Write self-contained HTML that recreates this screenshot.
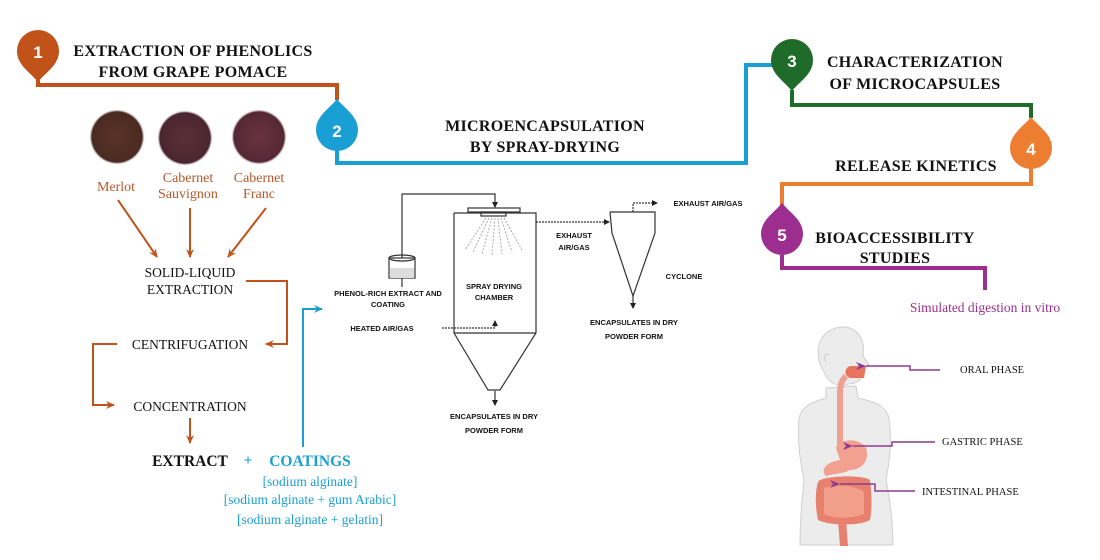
<!DOCTYPE html>
<html><head><meta charset="utf-8"><style>
html,body{margin:0;padding:0;background:#fff;}
svg{display:block;}
.s{font-family:"Liberation Serif",serif;}
.a{font-family:"Liberation Sans",sans-serif;}
</style></head><body>
<svg width="1100" height="560" viewBox="0 0 1100 560" xmlns="http://www.w3.org/2000/svg">
<defs>
<radialGradient id="g1" cx="50%" cy="50%" r="50%"><stop offset="0" stop-color="#5a3326"/><stop offset="0.9" stop-color="#4a2a22"/><stop offset="1" stop-color="#fff" stop-opacity="0"/></radialGradient>
<radialGradient id="g2" cx="50%" cy="50%" r="50%"><stop offset="0" stop-color="#5a3036"/><stop offset="0.9" stop-color="#4a2530"/><stop offset="1" stop-color="#fff" stop-opacity="0"/></radialGradient>
<radialGradient id="g3" cx="50%" cy="50%" r="50%"><stop offset="0" stop-color="#6a3240"/><stop offset="0.9" stop-color="#552836"/><stop offset="1" stop-color="#fff" stop-opacity="0"/></radialGradient>
<marker id="ab" markerWidth="10" markerHeight="10" refX="8" refY="5" orient="auto" markerUnits="userSpaceOnUse"><path d="M0,1 L9,5 L0,9 L3,5z" fill="#c0521a"/></marker>
<marker id="abl" markerWidth="10" markerHeight="10" refX="8" refY="5" orient="auto" markerUnits="userSpaceOnUse"><path d="M0,1 L9,5 L0,9 L3,5z" fill="#1a9fd4"/></marker>
<marker id="ap" markerWidth="12" markerHeight="10" refX="1" refY="5" orient="auto" markerUnits="userSpaceOnUse"><path d="M11,1 L1,5 L11,9 L8,5z" fill="#8e3a92"/></marker>
<marker id="ak" markerWidth="6" markerHeight="6" refX="5" refY="3" orient="auto" markerUnits="userSpaceOnUse"><path d="M0,0 L6,3 L0,6z" fill="#222"/></marker>
</defs>

<polyline points="38,80 38,85 337,85 337,100" fill="none" stroke="#c0521a" stroke-width="4"/>
<polyline points="337,150 337,163 746,163 746,65 772,65" fill="none" stroke="#1a9fd4" stroke-width="4"/>
<polyline points="792,90 792,105 1031,105 1031,118" fill="none" stroke="#1e6b2a" stroke-width="4"/>
<polyline points="1031,168 1031,184 782,184 782,205" fill="none" stroke="#ed7d31" stroke-width="4"/>
<polyline points="782,255 782,268 985,268 985,290" fill="none" stroke="#9b2e8f" stroke-width="4"/>

<path d="M38,82 C30,72 17,65 17,51 A21,21 0 1 1 59,51 C59,65 46,72 38,82z" fill="#c0521a"/>
<text x="38" y="58" text-anchor="middle" class="a" font-weight="bold" font-size="17" fill="#fff">1</text>
<path d="M337,99 C329,109 316,116 316,130 A21,21 0 1 0 358,130 C358,116 345,109 337,99z" fill="#1a9fd4"/>
<text x="337" y="137" text-anchor="middle" class="a" font-weight="bold" font-size="17" fill="#fff">2</text>
<path d="M792,91 C784,81 771,74 771,60 A21,21 0 1 1 813,60 C813,74 800,81 792,91z" fill="#1e6b2a"/>
<text x="792" y="67" text-anchor="middle" class="a" font-weight="bold" font-size="17" fill="#fff">3</text>
<path d="M1031,117 C1023,127 1010,134 1010,148 A21,21 0 1 0 1052,148 C1052,134 1039,127 1031,117z" fill="#ed7d31"/>
<text x="1031" y="155" text-anchor="middle" class="a" font-weight="bold" font-size="17" fill="#fff">4</text>
<path d="M782,203 C774,213 761,220 761,234 A21,21 0 1 0 803,234 C803,220 790,213 782,203z" fill="#9b2e8f"/>
<text x="782" y="241" text-anchor="middle" class="a" font-weight="bold" font-size="17" fill="#fff">5</text>

<g class="s" font-weight="bold" font-size="16" fill="#111" text-anchor="middle" letter-spacing="0.3">
<text x="193" y="56">EXTRACTION  OF PHENOLICS</text>
<text x="193" y="77">FROM GRAPE POMACE</text>
<text x="545" y="131">MICROENCAPSULATION</text>
<text x="545" y="152">BY SPRAY-DRYING</text>
<text x="915" y="67">CHARACTERIZATION</text>
<text x="915" y="89">OF MICROCAPSULES</text>
<text x="916" y="171">RELEASE  KINETICS</text>
<text x="895" y="243">BIOACCESSIBILITY</text>
<text x="895" y="263">STUDIES</text>
</g>

<circle cx="117" cy="137" r="28" fill="url(#g1)"/>
<circle cx="185" cy="138" r="28" fill="url(#g2)"/>
<circle cx="259" cy="137" r="28" fill="url(#g3)"/>
<g class="s" font-size="14" fill="#b5582a" text-anchor="middle">
<text x="116" y="191">Merlot</text>
<text x="188" y="182">Cabernet</text>
<text x="188" y="198">Sauvignon</text>
<text x="259" y="182">Cabernet</text>
<text x="259" y="198">Franc</text>
</g>
<g stroke="#c0521a" stroke-width="2" fill="none">
<line x1="118" y1="200" x2="157" y2="257" marker-end="url(#ab)"/>
<line x1="190" y1="208" x2="190" y2="257" marker-end="url(#ab)"/>
<line x1="266" y1="208" x2="228" y2="257" marker-end="url(#ab)"/>
<polyline points="246,281 287,281 287,344 266,344" marker-end="url(#ab)"/>
<polyline points="117,344 93,344 93,405 114,405" marker-end="url(#ab)"/>
<line x1="190" y1="418" x2="190" y2="443" marker-end="url(#ab)"/>
</g>
<g class="s" font-size="13.5" fill="#111" text-anchor="middle">
<text x="190" y="277">SOLID-LIQUID</text>
<text x="190" y="294">EXTRACTION</text>
<text x="190" y="349">CENTRIFUGATION</text>
<text x="190" y="411">CONCENTRATION</text>
</g>
<text x="190" y="466" class="s" font-weight="bold" font-size="15.5" fill="#111" text-anchor="middle">EXTRACT</text>
<text x="248" y="465" class="s" font-weight="bold" font-size="15" fill="#1a9fd4" text-anchor="middle">+</text>
<text x="310" y="466" class="s" font-weight="bold" font-size="15.5" fill="#1a9fd4" text-anchor="middle">COATINGS</text>
<g class="s" font-size="13.5" fill="#1a9fd4" text-anchor="middle">
<text x="310" y="486">[sodium  alginate]</text>
<text x="310" y="504">[sodium  alginate + gum Arabic]</text>
<text x="310" y="524">[sodium  alginate + gelatin]</text>
</g>
<polyline points="303,447 303,309 322,309" fill="none" stroke="#1a9fd4" stroke-width="2" marker-end="url(#abl)"/>

<g stroke="#333" stroke-width="1.2" fill="none">
<polyline points="402,287 402,194 495,194 495,207" marker-end="url(#ak)"/>
<rect x="389" y="258" width="26" height="20" fill="#fff"/>
<ellipse cx="402" cy="258" rx="13" ry="3"/>
<rect x="390" y="268" width="24" height="10" fill="#ddd" stroke="none"/>
<rect x="468" y="208" width="52" height="4"/>
<rect x="481" y="212" width="25" height="4"/>
<polyline points="454,213 454,333 488,390 500,390 536,333 536,213 454,213"/>
<line x1="454" y1="333" x2="536" y2="333"/>
<line x1="495" y1="391" x2="495" y2="405" marker-end="url(#ak)"/>
<polyline points="442,328 495,328 495,321" stroke-dasharray="2,1" marker-end="url(#ak)"/>
<line x1="536" y1="222" x2="609" y2="222" stroke-dasharray="2,1" marker-end="url(#ak)"/>
<polyline points="610,212 655,212 655,233 633,296 612,233 610,212"/>
<polyline points="633,212 633,203 657,203" stroke-dasharray="2,1" marker-end="url(#ak)"/>
<line x1="633" y1="296" x2="633" y2="308" marker-end="url(#ak)"/>
</g>
<g stroke="#999" stroke-width="0.8" stroke-dasharray="2,1.5">
<line x1="486" y1="218" x2="465" y2="250"/><line x1="489" y1="218" x2="473" y2="252"/>
<line x1="492" y1="218" x2="482" y2="254"/><line x1="495" y1="218" x2="492" y2="255"/>
<line x1="498" y1="218" x2="502" y2="254"/><line x1="501" y1="218" x2="512" y2="252"/>
<line x1="504" y1="218" x2="522" y2="250"/>
</g>
<g class="a" font-weight="bold" font-size="7.5" fill="#111" text-anchor="middle">
<text x="388" y="296">PHENOL-RICH EXTRACT AND</text>
<text x="388" y="307">COATING</text>
<text x="382" y="331">HEATED AIR/GAS</text>
<text x="494" y="289">SPRAY DRYING</text>
<text x="494" y="300">CHAMBER</text>
<text x="494" y="419">ENCAPSULATES IN DRY</text>
<text x="494" y="433">POWDER FORM</text>
<text x="574" y="238">EXHAUST</text>
<text x="574" y="250">AIR/GAS</text>
<text x="708" y="206">EXHAUST AIR/GAS</text>
<text x="684" y="279">CYCLONE</text>
<text x="634" y="325">ENCAPSULATES IN DRY</text>
<text x="634" y="339">POWDER FORM</text>
</g>

<!-- digestion -->
<text x="985" y="312" class="s" font-size="13.5" fill="#9b2e8f" text-anchor="middle">Simulated digestion in vitro</text>
<g fill="#ececec" stroke="#cfcfcf" stroke-width="1">
<path d="M826,388 L826,398 C812,402 802,406 799,418 C797,440 800,460 804,480 C802,500 800,520 800,545 L893,545 C893,520 890,500 886,480 C890,460 892,440 889,418 C886,406 876,402 858,398 L856,386 Z"/>
<path d="M824,372 C814,356 816,334 836,328 C855,323 866,338 863,356 L869,365 L864,368 C864,378 858,384 848,384 L844,386 C836,386 828,382 824,372 Z"/>
</g>
<path d="M829,355 C826,352 823,356 826,362" fill="none" stroke="#cfcfcf"/>
<path d="M850,366 L866,366 L864,378 L850,378 C844,376 844,368 850,366 Z" fill="#e8735f"/>
<path d="M846,376 C842,380 840,384 840,392 L840,452" fill="none" stroke="#f0a090" stroke-width="6"/>
<path d="M836,448 C838,440 858,436 866,448 C870,460 862,470 850,470 C842,474 832,474 826,476 C820,470 826,462 840,460 Z" fill="#f2a090"/>
<path d="M818,482 C820,476 862,474 870,480 C872,495 872,510 870,520 C860,526 830,526 818,520 C815,505 815,492 818,482 Z" fill="#e8806e"/>
<path d="M824,488 C840,484 856,486 864,492 L864,514 C850,519 834,519 824,514 Z" fill="#f2a08c"/>
<path d="M838,520 L840,546 L848,546 L846,520 Z" fill="#e8806e"/>
<g stroke="#8e3a92" stroke-width="1.5" fill="none">
<polyline points="940,370 910,370 910,366 866,366" marker-end="url(#ap)"/>
<polyline points="935,442 892,442 892,446 853,446" marker-end="url(#ap)"/>
<polyline points="915,491 875,491 875,484 840,484" marker-end="url(#ap)"/>
</g>
<g class="s" font-size="10.5" fill="#111">
<text x="960" y="373">ORAL PHASE</text>
<text x="942" y="445">GASTRIC PHASE</text>
<text x="922" y="495">INTESTINAL PHASE</text>
</g>
</svg>
</body></html>
